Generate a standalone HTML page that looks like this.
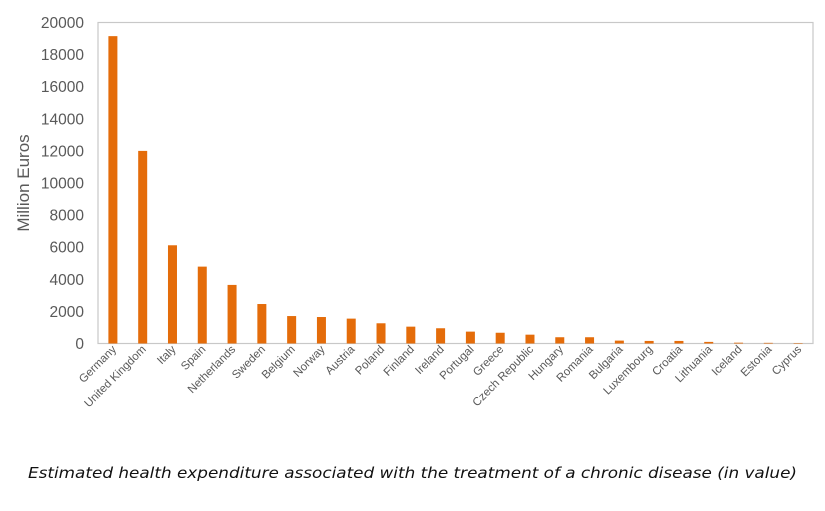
<!DOCTYPE html>
<html><head><meta charset="utf-8"><style>
body{margin:0;background:#fff;width:825px;height:506px;overflow:hidden;font-family:"Liberation Sans",Arial,sans-serif}
</style></head><body>
<svg id="chart" width="825" height="506" xmlns="http://www.w3.org/2000/svg">
<rect x="98" y="22.5" width="715" height="321" fill="none" stroke="#c8c8c8" stroke-width="1.2"/>
<text x="0" y="0" transform="translate(29,183) rotate(-90)" text-anchor="middle" font-size="17" fill="#595959">Million Euros</text>
<text x="28" y="478" textLength="769" lengthAdjust="spacingAndGlyphs" font-family="DejaVu Sans, sans-serif" font-size="15.5" font-style="italic" fill="#111">Estimated health expenditure associated with the treatment of a chronic disease (in value)</text>
</svg>
<script>
const categories=["Germany","United Kingdom","Italy","Spain","Netherlands","Sweden","Belgium","Norway","Austria","Poland","Finland","Ireland","Portugal","Greece","Czech Republic","Hungary","Romania","Bulgaria","Luxembourg","Croatia","Lithuania","Iceland","Estonia","Cyprus"];
const values=[19150,12000,6120,4790,3650,2460,1710,1650,1550,1260,1050,950,740,670,550,390,390,180,160,160,100,50,40,30];
const yTicks=[0,2000,4000,6000,8000,10000,12000,14000,16000,18000,20000];
const svg=document.getElementById('chart');
const NS="http://www.w3.org/2000/svg";
const x0=98,x1=813,y0=343.5,y1=22.5,yMax=20000;
const band=(x1-x0)/categories.length;
function xScale(i){return x0+band*(i+0.5);}
function yScale(v){return y0-(v/yMax)*(y0-y1);}
yTicks.forEach(t=>{
  const tx=document.createElementNS(NS,'text');
  
  
  tx.setAttribute('x',84);tx.setAttribute('y',yScale(t)+5.5);
  tx.setAttribute('text-anchor','end');tx.setAttribute('font-size','15.5');tx.setAttribute('fill','#595959');
  tx.textContent=t;svg.appendChild(tx);
});
categories.forEach((c,i)=>{
  const r=document.createElementNS(NS,'rect');
  
  
  const bw=9;
  r.setAttribute('x',xScale(i)-bw/2);r.setAttribute('y',yScale(values[i]));
  r.setAttribute('width',bw);r.setAttribute('height',y0-yScale(values[i]));
  r.setAttribute('fill','#e46c0a');svg.appendChild(r);
  const t=document.createElementNS(NS,'text');
  
  
  const lx=xScale(i)+4,ly=350;
  t.setAttribute('transform','translate('+lx+','+ly+') rotate(-45)');
  t.setAttribute('text-anchor','end');t.setAttribute('font-size','11.5');t.setAttribute('fill','#595959');
  t.textContent=c;svg.appendChild(t);
});
</script>
</body></html>
